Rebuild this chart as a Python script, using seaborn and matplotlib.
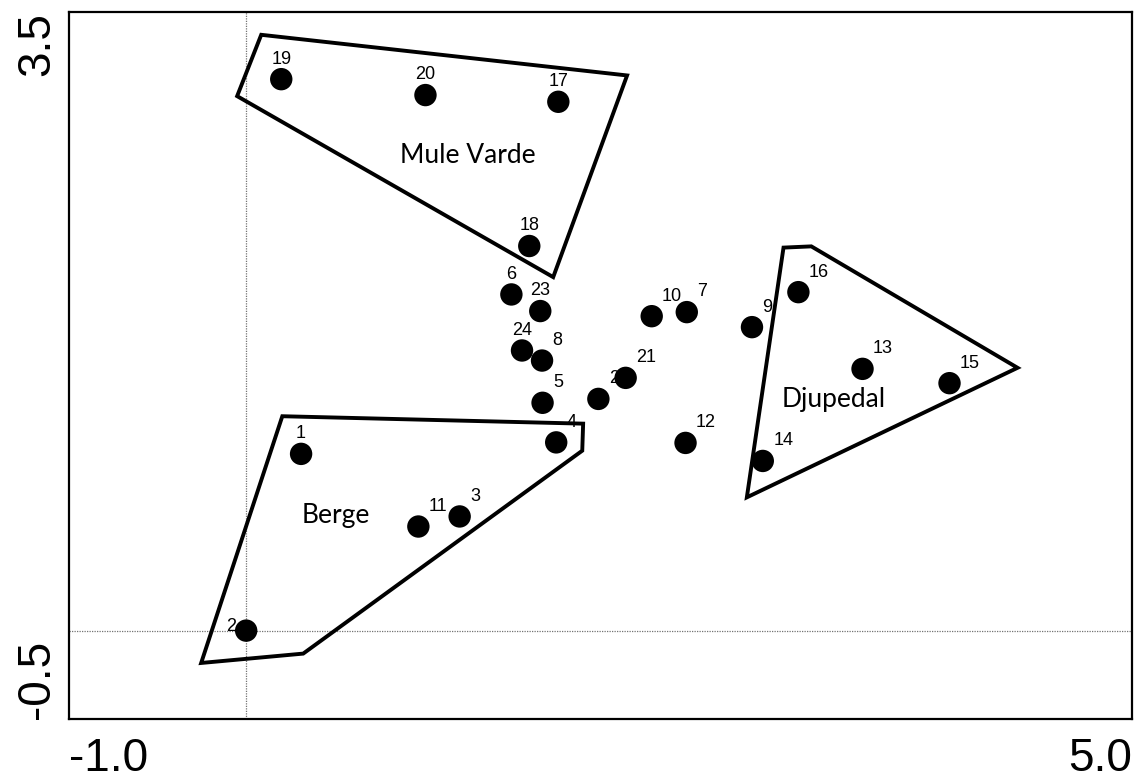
import matplotlib
matplotlib.use("Agg")
import matplotlib.pyplot as plt
import seaborn as sns
import pandas as pd
from matplotlib.patches import Polygon

# ordination scores of the 24 sites
site_ids = list(range(1, 25))
site_x = [0.31, 0.00, 1.205, 1.750, 1.673, 1.497, 2.487, 1.670, 2.855, 2.289, 0.972, 2.480,
          3.479, 2.916, 3.970, 3.117, 1.762, 1.598, 0.198, 1.012, 2.142, 1.988, 1.660, 1.557]
site_y = [1.00, 0.00, 0.646, 1.065, 1.289, 1.902, 1.802, 1.528, 1.717, 1.779, 0.589, 1.062,
          1.481, 0.960, 1.400, 1.915, 2.992, 2.176, 3.120, 3.030, 1.430, 1.311, 1.808, 1.585]

# hull outlines of the three localities
mule_varde_x = [0.085, 2.150, 1.733, -0.051]
mule_varde_y = [3.371, 3.141, 2.000, 3.024]
berge_x = [0.204, 1.902, 1.897, 0.322, -0.254]
berge_y = [1.213, 1.171, 1.018, -0.130, -0.183]
djupedal_x = [3.033, 3.190, 4.354, 2.826]
djupedal_y = [2.167, 2.174, 1.487, 0.754]

group_names = ["Mule Varde", "Berge", "Djupedal"]
group_label_x = [1.25, 0.507, 3.319]
group_label_y = [2.686, 0.650, 1.307]

x_ticks = [-1, 0, 1, 2, 3, 4, 5]
x_tick_labels = ["-1.0", "", "", "", "", "", "5.0"]
y_ticks = [-0.5, 0.0, 0.5, 1.0, 1.5, 2.0, 2.5, 3.0, 3.5]
y_tick_labels = ["-0.5", "", "", "", "", "", "", "", "3.5"]

# where each site number sits relative to its dot
label_side = {1: "up", 6: "up", 17: "up", 18: "up", 19: "up", 20: "up", 23: "up", 24: "up", 2: "left"}

sns.set_style("white")
plt.rcParams["font.family"] = ["Liberation Sans", "DejaVu Sans"]
plt.rcParams["text.color"] = "black"
plt.rcParams["xtick.color"] = "black"
plt.rcParams["ytick.color"] = "black"

df = pd.DataFrame({"site": site_ids, "x": site_x, "y": site_y})

fig = plt.figure(figsize=(11.37, 7.80), dpi=100)
ax = fig.add_axes([69 / 1137, 1 - 719 / 780, (1132 - 69) / 1137, (719 - 12) / 780])

ax.axvline(0, color="0.45", lw=0.9, ls=(0, (1, 1)), zorder=1)
ax.axhline(0, color="0.45", lw=0.9, ls=(0, (1, 1)), zorder=1)

for gx, gy in [(mule_varde_x, mule_varde_y), (berge_x, berge_y), (djupedal_x, djupedal_y)]:
    poly = Polygon(list(zip(gx, gy)), closed=True, fill=False, edgecolor="black",
                   lw=2.8, joinstyle="miter", zorder=2)
    ax.add_patch(poly)

sns.scatterplot(data=df, x="x", y="y", s=260, color="black", edgecolor="none",
                legend=False, ax=ax, zorder=4)

for sid, sx, sy in zip(site_ids, site_x, site_y):
    side = label_side.get(sid, "right")
    if side == "up":
        off, ha = (0, 14.5), "center"
    elif side == "left":
        off, ha = (-7.5, 3), "right"
    else:
        off, ha = (7.5, 14.5), "left"
    ax.annotate(str(sid), (sx, sy), xytext=off, textcoords="offset points",
                ha=ha, va="center", fontsize=13, color="black", zorder=3)

for name, gx, gy in zip(group_names, group_label_x, group_label_y):
    ax.text(gx, gy, name, ha="center", va="center", fontsize=19, color="black",
            family=["Lato", "DejaVu Sans"], zorder=3)

ax.set_xlim(-1, 5)
ax.set_ylim(-0.5, 3.5)
ax.set_xticks(x_ticks)
ax.set_xticklabels(x_tick_labels, fontsize=33)
ax.set_yticks(y_ticks)
ax.set_yticklabels(y_tick_labels, fontsize=33, rotation=90)
xl = ax.get_xticklabels()
xl[0].set_ha("left")
xl[-1].set_ha("right")
yl = ax.get_yticklabels()
yl[0].set_va("bottom")
yl[-1].set_va("top")

ax.tick_params(axis="both", direction="inout", length=10, width=1.3, color="black",
               labelcolor="black")
ax.tick_params(axis="x", pad=8)
ax.tick_params(axis="y", pad=2)
for sp in ax.spines.values():
    sp.set_color("black")
    sp.set_linewidth(1.6)
ax.set_xlabel("")
ax.set_ylabel("")

fig.savefig("out.png", dpi=100)
